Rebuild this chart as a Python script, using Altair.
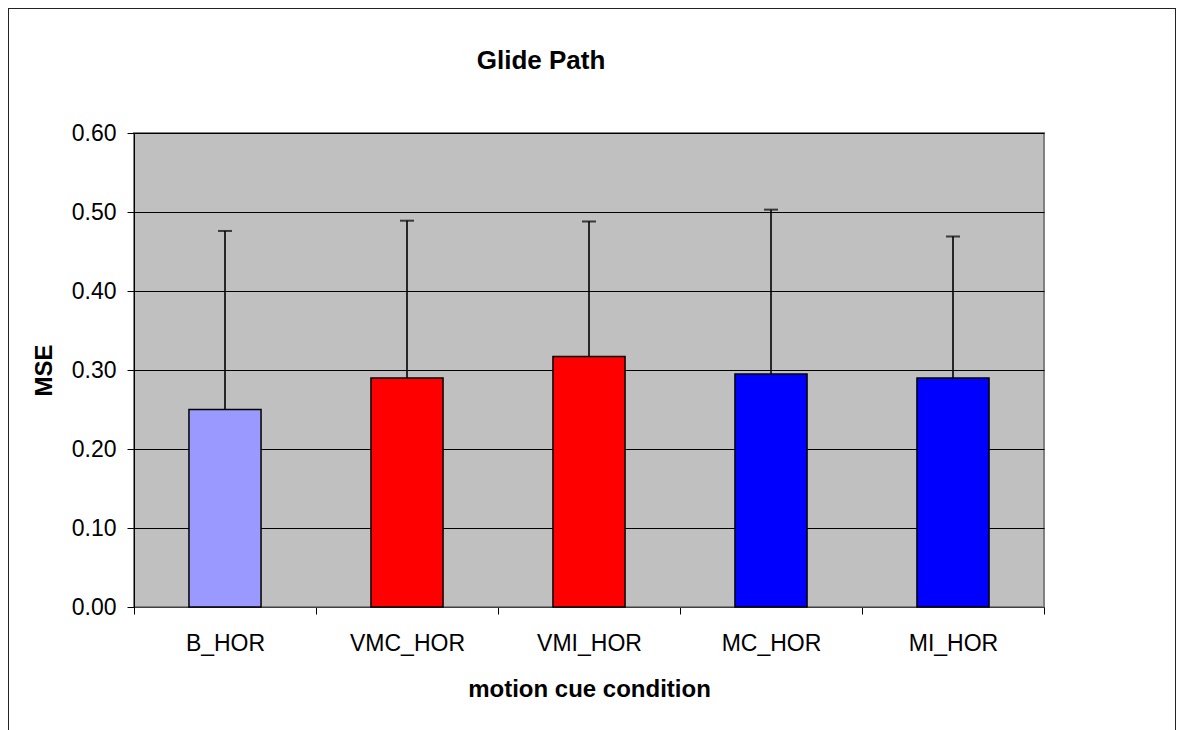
import altair as alt
import pandas as pd

categories = ["B_HOR", "VMC_HOR", "VMI_HOR", "MC_HOR", "MI_HOR"]
means = [0.250, 0.290, 0.317, 0.295, 0.290]
errors = [0.226, 0.199, 0.171, 0.208, 0.179]
colors = ["#9999FF", "#FF0000", "#FF0000", "#0000FF", "#0000FF"]
y_ticks = [0.0, 0.1, 0.2, 0.3, 0.4, 0.5, 0.6]

df = pd.DataFrame({"cond": categories, "mse": means, "err": errors, "color": colors})

FONT = "Liberation Sans"

x_enc = alt.X(
    "cond:N",
    sort=categories,
    scale=alt.Scale(paddingInner=0, paddingOuter=0),
    axis=alt.Axis(title="motion cue condition", labelAngle=0, tickBand="extent"),
)
y_scale = alt.Scale(domain=[0, 0.6], nice=False, zero=True)
y_axis = alt.Axis(values=y_ticks, format=".2f", title="MSE")

base = alt.Chart(df).transform_calculate(upper="datum.mse + datum.err")

bars = base.mark_bar(
    width=alt.RelativeBandSize(0.396), stroke="black", strokeWidth=1.5
).encode(
    x=x_enc,
    y=alt.Y("mse:Q", scale=y_scale, axis=y_axis, title="MSE"),
    color=alt.Color("color:N", scale=None),
)

err_rule = base.mark_rule(color="black", strokeWidth=1.6).encode(
    x=x_enc,
    y=alt.Y("mse:Q", scale=y_scale, axis=y_axis, title="MSE"),
    y2="upper:Q",
)

err_cap = base.mark_tick(color="black", size=14, thickness=2, orient="horizontal").encode(
    x=x_enc,
    y=alt.Y("upper:Q", scale=y_scale, axis=y_axis, title="MSE"),
)

# outer chart-area border (decoration)
frame = base.mark_rect(fill="transparent", stroke="#222222", strokeWidth=1).encode(
    x=alt.value(-125.5), x2=alt.value(1041.5), y=alt.value(-124.5), y2=alt.value(660)
)

chart = (
    alt.layer(bars, err_rule, err_cap, frame)
    .properties(
        width=910,
        height=474,
        title=alt.TitleParams(
            "Glide Path",
            font=FONT,
            fontSize=26,
            fontWeight="bold",
            color="black",
            anchor="middle",
            frame="group",
            dx=-48,
            offset=-66,
        ),
        autosize=alt.AutoSizeParams(type="none"),
        padding={"left": 126, "top": 125, "right": 132, "bottom": 130},
    )
    .configure_view(fill="#C0C0C0", stroke="#808080", strokeWidth=2)
    .configure_axis(
        labelFont=FONT,
        labelFontSize=23,
        labelColor="black",
        titleFont=FONT,
        titleFontSize=24,
        titleFontWeight="bold",
        titleColor="black",
        domainColor="black",
        domainWidth=1,
        tickColor="black",
        tickWidth=1,
        tickSize=7,
    )
    .configure_axisY(grid=True, gridColor="black", gridWidth=1, labelPadding=11, titlePadding=15)
    .configure_axisX(grid=False, labelPadding=18, titlePadding=22, domainColor="#404040")
)

chart.save("out.html", embed_options={"renderer": "svg", "actions": False})
